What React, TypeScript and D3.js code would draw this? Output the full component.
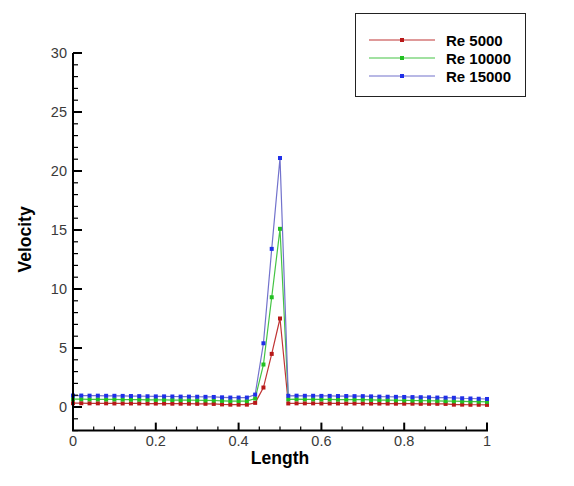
import React, { useEffect, useRef } from "react";
import * as d3 from "d3";

// x positions: 0 .. 1 in steps of 0.02 (51 stations)
const lengths: number[] = d3.range(51).map((i) => +(i * 0.02).toFixed(2));

const re5000: number[] = [
  0.32, 0.32, 0.31, 0.31, 0.31, 0.3, 0.3, 0.3, 0.3, 0.29, 0.29, 0.29, 0.28, 0.28, 0.28, 0.27, 0.27, 0.26, 0.22, 0.2, 0.2, 0.2,
  0.35, 1.65, 4.5, 7.5,
  0.3, 0.31, 0.31, 0.31, 0.3, 0.3, 0.3, 0.3, 0.3, 0.3, 0.29, 0.29, 0.29, 0.28, 0.28, 0.28, 0.27, 0.27, 0.27, 0.26, 0.2, 0.2, 0.19, 0.19, 0.18,
];
const re10000: number[] = [
  0.66, 0.66, 0.65, 0.65, 0.64, 0.64, 0.63, 0.62, 0.62, 0.61, 0.6, 0.6, 0.59, 0.58, 0.58, 0.57, 0.56, 0.55, 0.52, 0.5, 0.5, 0.5,
  0.72, 3.6, 9.3, 15.1,
  0.65, 0.66, 0.65, 0.65, 0.64, 0.64, 0.63, 0.63, 0.62, 0.62, 0.6, 0.59, 0.58, 0.57, 0.56, 0.55, 0.54, 0.53, 0.52, 0.5, 0.49, 0.47, 0.46, 0.45, 0.44,
];
const re15000: number[] = [
  0.97, 0.97, 0.96, 0.96, 0.95, 0.95, 0.94, 0.93, 0.92, 0.91, 0.9, 0.9, 0.89, 0.88, 0.88, 0.87, 0.86, 0.85, 0.82, 0.8, 0.8, 0.8,
  1.05, 5.4, 13.4, 21.1,
  0.95, 0.96, 0.95, 0.95, 0.94, 0.94, 0.93, 0.93, 0.92, 0.92, 0.9, 0.88, 0.87, 0.86, 0.85, 0.84, 0.83, 0.82, 0.8, 0.79, 0.78, 0.74, 0.72, 0.7, 0.68,
];

const seriesNames = ["Re 5000", "Re 10000", "Re 15000"];
const lineColors = ["#c03434", "#44c444", "#7272cc"];
const markerColors = ["#b81818", "#22c022", "#1f2fe8"];
const xTicks = [0, 0.2, 0.4, 0.6, 0.8, 1];
const yTicks = [0, 5, 10, 15, 20, 25, 30];

export default function App() {
  const width = 574;
  const height = 486;
  const svgRef = useRef<SVGSVGElement>(null);

  useEffect(() => {
    const svg = d3.select(svgRef.current);
    svg.selectAll("*").remove();

    const x = d3.scaleLinear().domain([0, 1]).range([73, 487]);
    const y = d3.scaleLinear().domain([-2, 30]).range([430.6, 53]);
    const font = "'Liberation Sans', Arial, sans-serif";

    const all = [re5000, re10000, re15000];

    const plot = svg.append("g");
    const line = d3
      .line<number>()
      .x((_, i) => x(lengths[i]))
      .y((d) => y(d));

    all.forEach((vals, k) => {
      plot
        .append("path")
        .attr("d", line(vals))
        .attr("fill", "none")
        .attr("stroke", lineColors[k])
        .attr("stroke-width", 1.2);
      plot
        .selectAll(`.m${k}`)
        .data(vals)
        .enter()
        .append("rect")
        .attr("x", (_, i) => x(lengths[i]) - 2)
        .attr("y", (d) => y(d) - 2)
        .attr("width", 4)
        .attr("height", 4)
        .attr("fill", markerColors[k]);
    });

    // axes
    const axes = svg.append("g").attr("stroke", "#000");
    axes
      .append("line")
      .attr("x1", x(0))
      .attr("x2", x(0))
      .attr("y1", y(30))
      .attr("y2", y(-2))
      .attr("stroke-width", 2);
    axes
      .append("line")
      .attr("x1", x(0) - 1)
      .attr("x2", x(1) + 1)
      .attr("y1", y(-2))
      .attr("y2", y(-2))
      .attr("stroke-width", 2);

    // y ticks (inward, to the right)
    d3.range(-2, 31).forEach((v) => {
      const major = v % 5 === 0;
      axes
        .append("line")
        .attr("x1", x(0))
        .attr("x2", x(0) + (major ? 9 : 5))
        .attr("y1", y(v))
        .attr("y2", y(v))
        .attr("stroke-width", major ? 2 : 1.2);
    });
    // x ticks (inward, upward)
    d3.range(0, 21).forEach((i) => {
      const v = i * 0.05;
      const major = i % 4 === 0;
      axes
        .append("line")
        .attr("x1", x(v))
        .attr("x2", x(v))
        .attr("y1", y(-2))
        .attr("y2", y(-2) - (major ? 8 : 4))
        .attr("stroke-width", major ? 2 : 1.2);
    });

    svg
      .selectAll(".ytl")
      .data(yTicks)
      .enter()
      .append("text")
      .attr("x", 67)
      .attr("y", (d) => y(d) + 5)
      .attr("text-anchor", "end")
      .attr("font-family", font)
      .attr("font-size", 14.5)
      .attr("fill", "#3a3a3a")
      .text((d) => d);

    svg
      .selectAll(".xtl")
      .data(xTicks)
      .enter()
      .append("text")
      .attr("x", (d) => x(d))
      .attr("y", 446)
      .attr("text-anchor", "middle")
      .attr("font-family", font)
      .attr("font-size", 14.5)
      .attr("fill", "#3a3a3a")
      .text((d) => d3.format("~g")(d));

    svg
      .append("text")
      .attr("x", x(0.5))
      .attr("y", 464)
      .attr("text-anchor", "middle")
      .attr("font-family", font)
      .attr("font-size", 17.5)
      .attr("font-weight", "bold")
      .text("Length");

    svg
      .append("text")
      .attr("transform", `translate(31,${y(14.2)}) rotate(-90)`)
      .attr("text-anchor", "middle")
      .attr("font-family", font)
      .attr("font-size", 17.5)
      .attr("font-weight", "bold")
      .text("Velocity");

    // legend
    const lg = svg.append("g");
    lg.append("rect")
      .attr("x", 355.5)
      .attr("y", 13.5)
      .attr("width", 170)
      .attr("height", 83)
      .attr("fill", "#fff")
      .attr("stroke", "#222")
      .attr("stroke-width", 1);
    seriesNames.forEach((name, k) => {
      const ry = 40 + k * 18;
      lg.append("line")
        .attr("x1", 369)
        .attr("x2", 435)
        .attr("y1", ry)
        .attr("y2", ry)
        .attr("stroke", lineColors[k])
        .attr("stroke-width", 1.2);
      lg.append("rect")
        .attr("x", 400)
        .attr("y", ry - 2)
        .attr("width", 4)
        .attr("height", 4)
        .attr("fill", markerColors[k]);
      lg.append("text")
        .attr("x", 446)
        .attr("y", ry + 5.5)
        .attr("font-family", font)
        .attr("font-size", 15)
        .attr("font-weight", "bold")
        .text(name);
    });
  }, []);

  return (
    <svg
      ref={svgRef}
      width={width}
      height={height}
      style={{ position: "absolute", left: 0, top: 0, background: "#fff" }}
    ></svg>
  );
}
